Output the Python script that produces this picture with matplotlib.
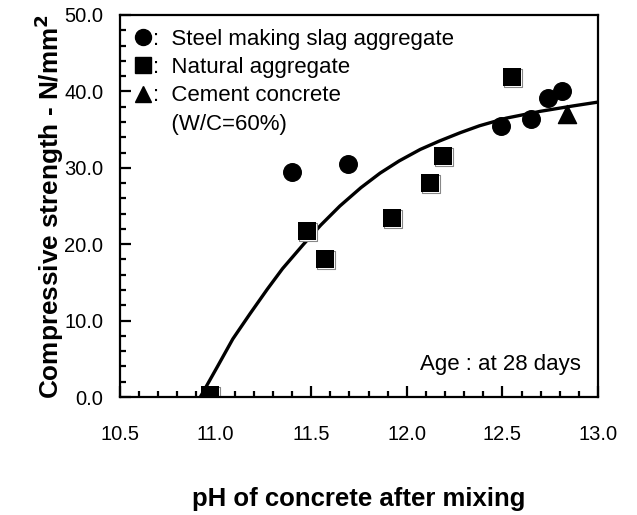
import matplotlib
matplotlib.use("Agg")
import matplotlib.pyplot as plt
import matplotlib.transforms as mtransforms
from matplotlib.lines import Line2D

plt.rcParams['font.family'] = ['Liberation Sans', 'DejaVu Sans']

# steel making slag aggregate
slag_ph = [11.40, 11.69, 12.49, 12.65, 12.74, 12.81]
slag_str = [29.5, 30.5, 35.5, 36.4, 39.1, 40.0]

# natural aggregate
nat_ph = [10.97, 11.48, 11.57, 11.92, 12.12, 12.19, 12.55]
nat_str = [0.3, 21.7, 18.0, 23.4, 28.0, 31.5, 41.9]

# cement concrete (W/C=60%)
cem_ph = [12.84]
cem_str = [37.1]

# trend curve
curve_ph = [10.92, 11.01, 11.09, 11.18, 11.27, 11.35, 11.46, 11.55, 11.65,
            11.76, 11.86, 11.96, 12.07, 12.17, 12.28, 12.38, 12.52, 12.70, 12.87, 13.00]
curve_str = [0.0, 4.0, 7.6, 10.9, 14.1, 16.8, 20.0, 22.5, 25.0,
             27.4, 29.3, 30.9, 32.4, 33.5, 34.6, 35.5, 36.5, 37.4, 38.1, 38.6]

fig = plt.figure(figsize=(6.37, 5.15), dpi=100)
ax = fig.add_axes([0.1884, 0.2291, 0.7504, 0.7418])

ax.plot(curve_ph, curve_str, color='black', lw=2.4, zorder=2,
        solid_joinstyle='round', solid_capstyle='butt')
ax.scatter(slag_ph, slag_str, s=160, marker='o', color='black', zorder=3)

# squares have a thin grey shadow to the lower right
shadow = mtransforms.offset_copy(ax.transData, fig=fig, x=1.0, y=-1.0, units='dots')
ax.scatter(nat_ph, nat_str, s=180, marker='s', facecolor='white',
           edgecolors='#888888', linewidths=0.8, zorder=2.5, transform=shadow)
ax.scatter(nat_ph, nat_str, s=180, marker='s', color='black', linewidths=0, zorder=3)
ax.scatter(cem_ph, cem_str, s=170, marker='^', color='black', zorder=3)

ax.set_xlim(10.5, 13.0)
ax.set_ylim(0, 50)
ax.set_xticks([10.5, 11.0, 11.5, 12.0, 12.5, 13.0])
ax.set_xticks([10.5 + 0.1 * i for i in range(26)], minor=True)
ax.set_yticks([0, 10, 20, 30, 40, 50])
ax.set_yticks(list(range(0, 51, 2)), minor=True)
ax.xaxis.set_major_formatter(plt.FormatStrFormatter('%.1f'))
ax.yaxis.set_major_formatter(plt.FormatStrFormatter('%.1f'))

for s in ax.spines.values():
    s.set_linewidth(1.6)
    s.set_zorder(4)
ax.tick_params(which='both', direction='in', width=1.6, labelsize=14.5)
ax.tick_params(which='major', length=8)
ax.tick_params(which='minor', length=4.5)
ax.tick_params(axis='x', which='major', pad=20)
ax.tick_params(axis='y', which='major', pad=12)

ax.set_xlabel('pH of concrete after mixing', fontsize=18.5, fontweight='bold', labelpad=31)
ax.set_ylabel('Compressive strength - N/mm$^\\mathbf{2}$', fontsize=18.8, fontweight='bold', labelpad=-1)

handles = [
    Line2D([], [], ls='none', marker='o', color='black', markersize=11.5),
    Line2D([], [], ls='none', marker='s', color='black', markersize=11),
    Line2D([], [], ls='none', marker='^', color='black', markersize=12),
    Line2D([], [], ls='none', marker=None),
]
labels = [':  Steel making slag aggregate', ':  Natural aggregate',
          ':  Cement concrete', '   (W/C=60%)']
ax.legend(handles, labels, loc='upper left', frameon=False, fontsize=16,
          handlelength=0.86, handletextpad=0.0, labelspacing=0.33,
          borderaxespad=0.32, borderpad=0.3)

ax.text(0.965, 0.085, 'Age : at 28 days', transform=ax.transAxes,
        ha='right', va='center', fontsize=16)

fig.savefig('out.png', dpi=100)
